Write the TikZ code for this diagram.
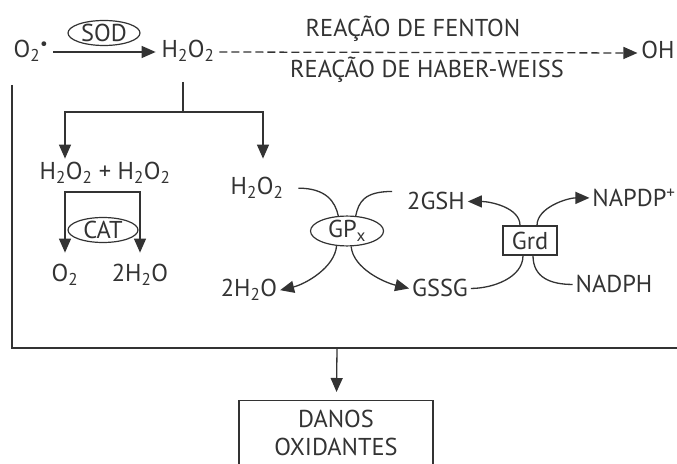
\documentclass[tikz,border=0pt]{standalone}
\usepackage{fontspec}
\setmainfont{PT Sans}
\usepackage{tikz}
\usetikzlibrary{arrows.meta,shapes.geometric}
\definecolor{inkgray}{HTML}{333333}

\begin{document}
\begin{tikzpicture}[x=1bp, y=-1bp,
  every node/.style={font=\fontsize{24.5}{28}\selectfont, text=inkgray},
  chem/.style={inner sep=0pt, outer sep=3bp, anchor=base},
  enzyme/.style={ellipse, draw=inkgray, line width=1.2bp, inner sep=0pt, minimum height=22bp},
  conn/.style={draw=inkgray, line width=1.3bp},
  >={Triangle[length=14bp,width=12bp]},
]
  \useasboundingbox (0,0) rectangle (677,464);
  \clip (0,0) rectangle (677,464);

  \node[chem] (o2a) at (31,58) {O\textsubscript{2}\textsuperscript{•}};
  \node[enzyme, minimum width=72bp] (sod) at (104,33) {SOD};
  \node[chem] (h2o2a) at (188,58) {H\textsubscript{2}O\textsubscript{2}};
  \node[chem] (oh) at (658,59) {OH};
  \node[chem] (fenton) at (413,37) {REAÇÃO DE FENTON};
  \node[chem] (haber) at (427,78) {REAÇÃO DE HABER-WEISS};

  \node[chem] (pair) at (105,180) {H\textsubscript{2}O\textsubscript{2} + H\textsubscript{2}O\textsubscript{2}};
  \node[enzyme, minimum width=70bp] (cat) at (103,230) {CAT};
  \node[chem] (o2b) at (65,282) {O\textsubscript{2}};
  \node[chem] (h2ob) at (140,282) {2H\textsubscript{2}O};

  \node[chem] (h2o2b) at (257,195) {H\textsubscript{2}O\textsubscript{2}};
  \node[enzyme, minimum width=73bp] (gpx) at (347,231) {GP\textsubscript{x}};
  \node[chem] (gsh) at (436,210) {2GSH};
  \node[chem] (h2oc) at (249,297) {2H\textsubscript{2}O};
  \node[chem] (gssg) at (440,297) {GSSG};
  \node[draw=inkgray, line width=1.2bp, minimum width=54bp, minimum height=29bp,
    inner sep=0pt] (grd) at (530,240.5) {Grd};
  \node[chem] (napdp) at (634,207) {NAPDP\textsuperscript{+}};
  \node[chem] (nadph) at (614,293) {NADPH};

  \node[draw=inkgray, line width=1.2bp, align=center, minimum width=194bp,
    inner ysep=10bp, text depth=14bp, anchor=north] (danos) at (336,400) {DANOS\\OXIDANTES};

  \coordinate (h2top) at (183,82);
  \coordinate (split) at (183,112);
  \coordinate (catl) at (65,192);
  \coordinate (catr) at (140,192);
  \coordinate (lt) at (12,85);
  \coordinate (lb) at (12,348);
  \coordinate (rb) at (680,348);
  \coordinate (dn) at (337,348);

  \draw[conn,->] ([shift={(2,-6)}]o2a.base east) -- ([shift={(-3,-6)}]h2o2a.base west);
  \draw[conn,->,dash pattern=on 8bp off 4bp] ([shift={(2,-6)}]h2o2a.base east) -- ([shift={(-1,-6)}]oh.base west);

  \draw[conn] (h2top) -- (split);
  \draw[conn,->,shorten >=1bp] (split) -| ([xshift=-40bp]pair.north);
  \draw[conn,->,shorten >=16bp] (split) -| ([xshift=6bp]h2o2b.north);
  \draw[conn,<->,shorten <=9bp,shorten >=9bp] (o2b) -- (catl) -- (catr) -- (h2ob);

  \draw[conn] ([xshift=12bp]h2o2b.east) .. controls +(28,0) and +(-3,-14) .. (gpx.120);
  \draw[conn] ([shift={(-12,-10)}]gsh.west) .. controls +(-28,0) and +(3,-14) .. (gpx.60);
  \draw[conn,->] (gpx.235) .. controls +(-2,22) and +(25,-6) .. (h2oc.east);
  \draw[conn,->] (gpx.285) .. controls +(2,22) and +(-25,-6) .. (gssg.west);

  \draw[conn,->] ([xshift=-10bp]grd.north) .. controls +(0,-18) and +(22,0) .. (gsh.east);
  \draw[conn,->] ([xshift=7bp]grd.north) .. controls +(0,-18) and +(-22,0) .. (napdp.west);
  \draw[conn] ([xshift=-7bp]grd.south) .. controls +(0,22) and +(22,0) .. (gssg.east);
  \draw[conn] ([xshift=3bp]grd.south) .. controls +(0,22) and +(-22,0) .. (nadph.west);

  \draw[conn] (lt) -- (lb) -- (rb);
  \draw[conn,->,shorten >=8bp] (dn) -- (danos);
\end{tikzpicture}
\end{document}
